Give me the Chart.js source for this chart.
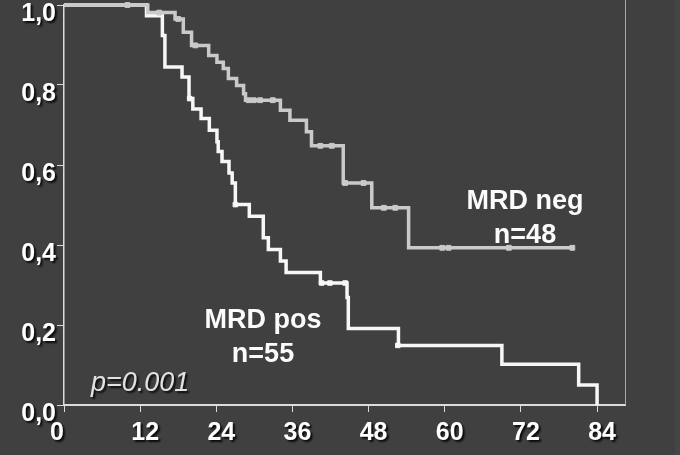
<!DOCTYPE html>
<html>
<head>
<meta charset="utf-8">
<script src="https://cdn.jsdelivr.net/npm/chart.js"></script>
<style>
	body { margin:0; background: linear-gradient(to right, #404040 675px, #464646 675px); }
	canvas { display:block; }
</style>
</head>
<body>
<canvas id="km" width="680" height="455"></canvas>
<script>
"use strict";
// tick values
const xTicks = [0, 12, 24, 36, 48, 60, 72, 84];
const yTicks = [0, 0.2, 0.4, 0.6, 0.8, 1.0];

// MRD neg, n=48 : event times (months) and survival after each event
const negTimes = [0, 13.2, 17.5, 18.8, 20.1, 22.8, 24.1, 25.1, 25.9, 27.2, 28.3, 28.6, 34.1, 35.6, 38.2, 39.0, 44.0, 48.5, 54.3, 80.3];
const negSurv  = [1, 0.981, 0.965, 0.932, 0.899, 0.874, 0.857, 0.841, 0.816, 0.799, 0.778, 0.762, 0.737, 0.712, 0.683, 0.648, 0.555, 0.493, 0.393, 0.393];
const negCensorTimes = [10.0, 15.0, 18.0, 20.7, 29.1, 29.9, 30.9, 32.9, 40.4, 42.2, 44.3, 47.2, 50.4, 52.2, 59.6, 60.6, 70.1, 80.1];
const negCensorSurv  = [1, 0.981, 0.965, 0.899, 0.762, 0.762, 0.762, 0.762, 0.648, 0.648, 0.555, 0.555, 0.493, 0.493, 0.393, 0.393, 0.393, 0.393];

// MRD pos, n=55
const posTimes = [0, 13.0, 15.5, 15.9, 18.6, 19.7, 20.3, 21.6, 22.9, 24.1, 24.3, 24.9, 26.0, 26.5, 27.0, 29.2, 31.4, 32.2, 34.1, 35.0, 40.4, 44.6, 44.8, 52.7, 69.0, 81.1, 84.0];
const posSurv  = [1, 0.973, 0.924, 0.845, 0.820, 0.766, 0.740, 0.716, 0.687, 0.658, 0.634, 0.609, 0.580, 0.555, 0.501, 0.472, 0.418, 0.389, 0.360, 0.331, 0.305, 0.269, 0.191, 0.149, 0.102, 0.050, 0];
const posCensorTimes = [19.8, 27.0, 40.6, 41.9, 44.3, 52.6];
const posCensorSurv  = [0.766, 0.501, 0.305, 0.305, 0.305, 0.149];

const pts = (xs, ys) => xs.map((x, i) => ({x: x, y: ys[i]}));

const NEG = '#cacaca';
const POS = '#f7f7f7';
const FONT = "'Liberation Sans', Arial, sans-serif";

// axis labels, group names and p value, drawn after the curves
const labels = {
	id: 'labels',
	afterDraw(chart) {
		const ctx = chart.ctx;
		const xs = chart.scales.x, ys = chart.scales.y;
		const area = chart.chartArea;
		ctx.save();
		// right frame line
		ctx.strokeStyle = '#a8a8a8';
		ctx.lineWidth = 1;
		ctx.beginPath();
		ctx.moveTo(area.right + 0.5, 0);
		ctx.lineTo(area.right + 0.5, area.bottom);
		ctx.stroke();

		ctx.shadowColor = 'rgba(0,0,0,0.85)';
		ctx.shadowOffsetX = 2;
		ctx.shadowOffsetY = 2;
		ctx.shadowBlur = 2;
		ctx.fillStyle = '#ffffff';
		ctx.font = 'bold 25px ' + FONT;
		ctx.textBaseline = 'middle';
		ctx.textAlign = 'right';
		yTicks.forEach(v => {
			ctx.fillText(v.toFixed(1).replace('.', ','), 56, ys.getPixelForValue(v) + 9);
		});
		ctx.textAlign = 'center';
		xTicks.forEach(v => {
			const dx = v === 0 ? -7 : 5;
			ctx.fillText(String(v), xs.getPixelForValue(v) + dx, 433);
		});

		ctx.fillStyle = '#e2e2e2';
		ctx.font = 'italic 27px ' + FONT;
		ctx.textAlign = 'left';
		ctx.textBaseline = 'alphabetic';
		ctx.fillText('p=0.001', 91, 391);

		ctx.shadowColor = 'transparent';
		ctx.fillStyle = '#fbfbfb';
		ctx.font = 'bold 27px ' + FONT;
		ctx.textAlign = 'center';
		ctx.fillText('MRD neg', 525, 209);
		ctx.fillText('n=48', 525, 243);
		ctx.fillText('MRD pos', 263, 328);
		ctx.fillText('n=55', 263, 362);
		ctx.restore();
	}
};

new Chart('km', {
	type: 'line',
	data: {
		datasets: [{
			data: pts(negTimes, negSurv),
			borderColor: NEG, borderWidth: 3.5,
			stepped: 'before', pointRadius: 0, clip: false
		}, {
			// censored cases
			data: pts(negCensorTimes, negCensorSurv),
			showLine: false, pointStyle: 'rect', pointRadius: 3.4,
			backgroundColor: NEG, borderColor: NEG, borderWidth: 1, clip: false
		}, {
			data: pts(posTimes, posSurv),
			borderColor: POS, borderWidth: 3.5,
			stepped: 'before', pointRadius: 0, clip: false
		}, {
			data: pts(posCensorTimes, posCensorSurv),
			showLine: false, pointStyle: 'rect', pointRadius: 3.2,
			backgroundColor: POS, borderColor: POS, borderWidth: 1, clip: false
		}]
	},
	options: {
		responsive: false,
		animation: false,
		devicePixelRatio: 1,
		layout: { padding: { top: 3, right: 55, left: 0, bottom: 0 } },
		plugins: { legend: { display: false }, tooltip: { enabled: false } },
		scales: {
			x: {
				type: 'linear', min: 0, max: 88.4,
				afterFit: s => { s.height = 50; },
				afterBuildTicks: s => { s.ticks = xTicks.map(v => ({value: v})); },
				ticks: { display: false },
				grid: { drawOnChartArea: false, drawTicks: true, tickLength: 7, color: '#d8d8d8', lineWidth: 1 },
				border: { display: true, color: '#dcdcdc', width: 2 }
			},
			y: {
				type: 'linear', min: 0, max: 1,
				afterFit: s => { s.width = 64; },
				afterBuildTicks: s => { s.ticks = yTicks.map(v => ({value: v})); },
				ticks: { display: false },
				grid: { drawOnChartArea: false, drawTicks: true, tickLength: 7, color: '#d8d8d8', lineWidth: 1 },
				border: { display: true, color: '#dcdcdc', width: 1.5 }
			}
		}
	},
	plugins: [labels]
});
</script>
</body>
</html>
